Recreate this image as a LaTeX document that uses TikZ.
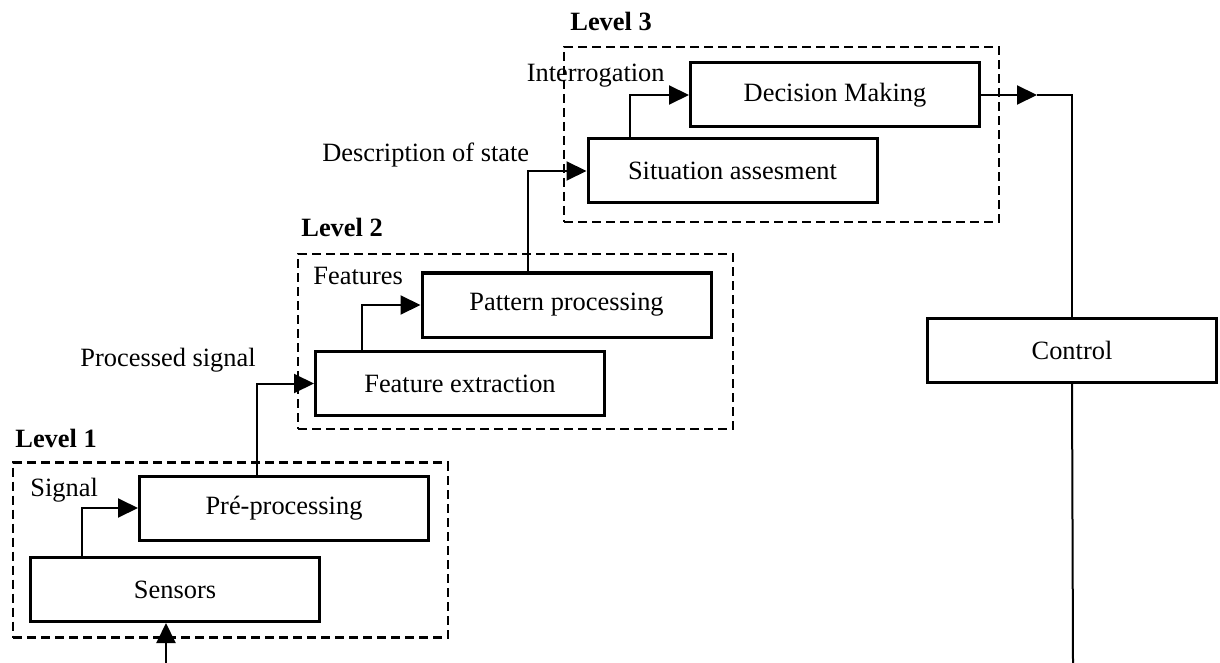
\documentclass[tikz,border=0pt]{standalone}
\usepackage{fontspec}
\setmainfont{Liberation Serif}
\usepackage{tikz}
\usetikzlibrary{arrows.meta}

\begin{document}
\begin{tikzpicture}[x=0.5pt,y=-0.5pt,
    font=\fontsize{13.2}{16}\selectfont,
    blk/.style={draw,line width=1.5pt,minimum width=144.5pt,minimum height=32pt,inner sep=0pt},
    lvl/.style={draw,line width=1.2pt,dash pattern=on 4.5pt off 2.5pt,minimum width=217.5pt,minimum height=87.5pt,inner sep=0pt},
    lbl/.style={anchor=base west,inner sep=0pt},
    conn/.style={line width=1pt,-{Triangle[length=10pt,width=9.5pt]}}]
    \useasboundingbox (0,0) rectangle (1220,663);
    \path
    (230.5,550) node[lvl](lev1) {}
    (515.5,341.5) node[lvl](lev2) {}
    (781.5,134.5) node[lvl](lev3) {};
    \path
    (15,447) node[lbl,font=\fontsize{13.2}{16}\selectfont\bfseries](lab1) {Level 1}
    (301,237) node[lbl,font=\fontsize{13.2}{16}\selectfont\bfseries](lab2) {Level 2}
    (570,31) node[lbl,font=\fontsize{13.2}{16}\selectfont\bfseries](lab3) {Level 3};
    \path
    (175,589.5) node[blk](sensors) {Sensors}
    (284,508) node[blk](pre) {Pré-processing}
    (460,383.5) node[blk](featex) {Feature extraction}
    (566.5,305) node[blk](pattern) {Pattern processing}
    (732.5,171) node[blk](situation) {Situation assesment}
    (835,95) node[blk](decision) {Decision Making}
    (1072,350.5) node[blk](control) {Control};
    \path
    (30,496) node[lbl](signal) {Signal}
    (80,366) node[lbl](procsig) {Processed signal}
    (313,285) node[lbl](features) {Features}
    (322,162) node[lbl](descr) {Description of state}
    (665,82) node[lbl,anchor=base east](interr) {Interrogation};
    \coordinate (sensin) at (166,663);
    \coordinate (dectip) at (1037,95);
    \coordinate (ctrlout) at (1073,663);
    \draw[conn] (sensin) -- (sensin |- sensors.south);
    \draw[conn] ([xshift=26.5pt]sensors.north west) |- (pre.west);
    \draw[conn] ([xshift=59.5pt]pre.north west) |- (featex.west);
    \draw[conn] ([xshift=24pt]featex.north west) |- (pattern.west);
    \draw[conn] ([xshift=53.5pt]pattern.north west) |- (situation.west);
    \draw[conn] ([xshift=21.5pt]situation.north west) |- (decision.west);
    \draw[conn] (decision.east) -- (dectip);
    \draw[line width=1pt] (dectip) -| (control.north);
    \draw[line width=1pt] (control.south) -- (ctrlout);
  \end{tikzpicture}
\end{document}
